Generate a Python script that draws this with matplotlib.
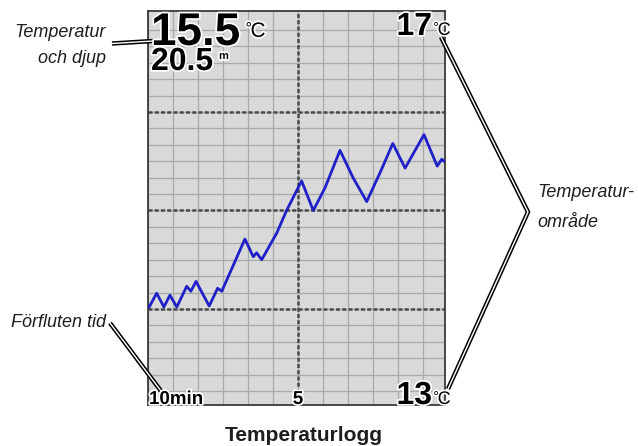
import matplotlib
matplotlib.use("Agg")
import matplotlib.pyplot as plt
import matplotlib.patheffects as pe
import numpy as np

# logged samples: minutes before now, water temperature in °C
minutes = [9.96, 9.71, 9.47, 9.27, 9.04, 8.71, 8.57, 8.40, 7.96, 7.68,
           7.54, 6.77, 6.49, 6.38, 6.21, 5.71, 5.38, 4.88, 4.49, 4.10,
           3.60, 3.16, 2.71, 2.27, 1.84, 1.43, 0.80, 0.36, 0.21, 0.13]
temps = [14.02, 14.16, 14.02, 14.14, 14.02, 14.23, 14.18, 14.28, 14.03, 14.21,
         14.18, 14.71, 14.53, 14.57, 14.50, 14.77, 15.00, 15.30, 15.00, 15.23,
         15.61, 15.33, 15.09, 15.38, 15.68, 15.43, 15.77, 15.45, 15.52, 15.50]

current_temp = "15.5"
current_depth = "20.5"
t_low, t_high = 13, 17
span_min = 10

W, H = 638, 446
fig = plt.figure(figsize=(W / 100, H / 100), dpi=100)
fig.patch.set_facecolor("white")

# screen panel in pixel coordinates
px_l, px_r, px_t, px_b = 148, 445, 11, 405
ax = fig.add_axes([px_l / W, 1 - px_b / H, (px_r - px_l) / W, (px_b - px_t) / H])
ax.set_facecolor("#d9d9d9")
ax.set_xlim(span_min, span_min - (px_r - px_l) / 30)
ax.set_ylim(t_low + 0.025, t_high + 0.025)
ax.set_xticks([])
ax.set_yticks([])
for s in ax.spines.values():
    s.set_color("#3a3a3a")
    s.set_linewidth(1.3)

# fine grid
for gx in np.arange(span_min, 0, -span_min / 12):
    ax.axvline(gx, color="#a9a9a9", lw=0.9, zorder=1)
for gy in np.arange(t_low, t_high, 1 / 6):
    ax.axhline(gy, color="#a9a9a9", lw=0.9, zorder=1)

# dashed major lines: 1 °C steps and the half-way time mark
dash = dict(color="#4a4a4a", lw=1.8, ls=(0, (1.6, 0.9)), zorder=2)
for gy in range(t_low + 1, t_high):
    ax.axhline(gy, **dash)
ax.axvline(span_min / 2, **dash)

ax.plot(minutes, temps, color="#2020c8", lw=2.0, zorder=3,
        solid_joinstyle="round")

# overlay for readouts and callouts, in pixels
ov = fig.add_axes([0, 0, 1, 1], zorder=5)
ov.set_xlim(0, W)
ov.set_ylim(H, 0)
ov.axis("off")

halo = [pe.withStroke(linewidth=2.5, foreground="white")]
font = "Liberation Sans"


def readout(x, y, s, size, weight="bold", ha="left", va="baseline"):
    ov.text(x, y, s, fontsize=size, fontweight=weight, family=font,
            ha=ha, va=va, color="black", path_effects=halo, zorder=6)


deg_c = r"$^{\circ}\!$C"

readout(151, 45, current_temp, 33)
readout(244, 37, deg_c, 15, weight="normal")
readout(151, 70, current_depth, 23)
readout(219, 59, "m", 8)

readout(432, 35, str(t_high), 23, ha="right")
readout(432, 35, deg_c, 13, weight="normal")

readout(432, 404, str(t_low), 23, ha="right")
readout(432, 404, deg_c, 13, weight="normal")

readout(149, 404, "10min", 13.5)
readout(298, 404, str(span_min // 2), 13.5, ha="center")


def callout(xs, ys):
    ov.plot(xs, ys, color="black", lw=3.2, solid_joinstyle="miter",
            solid_capstyle="butt", zorder=4)
    ov.plot(xs, ys, color="white", lw=1.0, solid_joinstyle="miter",
            solid_capstyle="butt", zorder=4)


callout([112, 153], [43.5, 41])
callout([110, 161], [323, 391])
callout([441, 528, 448], [37, 212, 389])

lab = dict(fontsize=13, style="italic", family=font, color="#1e1e1e")
ov.text(106, 37, "Temperatur", ha="right", va="baseline", **lab)
ov.text(106, 63, "och djup", ha="right", va="baseline", **lab)
ov.text(11, 327, "Förfluten tid", ha="left", va="baseline", **lab)
ov.text(537, 197, "Temperatur-", ha="left", va="baseline", **lab)
ov.text(537, 227, "område", ha="left", va="baseline", **lab)

ov.text(304, 441, "Temperaturlogg", fontsize=15, fontweight="bold",
        family=font, color="#1e1e1e", ha="center", va="baseline")

fig.savefig("out.png", dpi=100, facecolor="white")
